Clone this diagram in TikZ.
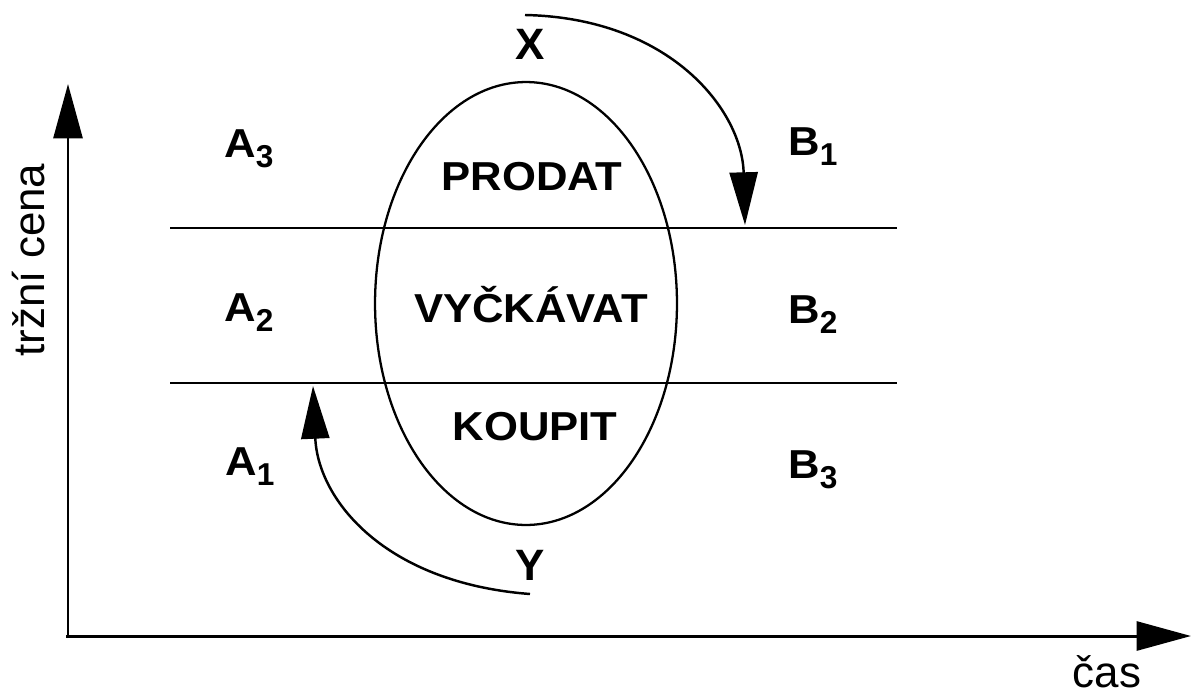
\documentclass[tikz,border=0pt]{standalone}
\usepackage{fontspec}
\usepackage{graphicx}
\setmainfont{Liberation Sans}
\usetikzlibrary{arrows.meta}
\tikzset{
  axisline/.style={line width=1.7pt,-{Triangle[length=31pt,width=16.5pt]}},
  bandline/.style={line width=1.6pt},
  curvearrow/.style={line width=1.4pt,-{Triangle[length=30pt,width=16pt]}},
  oval/.style={line width=1.3pt},
  zone/.style={font=\fontsize{23}{25}\selectfont\bfseries,inner sep=0pt,anchor=base},
  sidelab/.style={font=\fontsize{23}{25}\selectfont\bfseries,inner sep=0pt,anchor=base west},
  bigletter/.style={font=\fontsize{25}{27}\selectfont\bfseries,inner sep=0pt,anchor=base},
  axlab/.style={font=\fontsize{25}{28}\selectfont,inner sep=0pt},
}
\newcommand{\wide}[1]{\scalebox{1.08}[1]{#1}}
\newcommand{\sublab}[2]{\wide{#1}\raisebox{-5.7pt}{\fontsize{18}{18}\selectfont #2}}
\begin{document}
\begin{tikzpicture}[x=0.02cm,y=-0.02cm]
\useasboundingbox (0,0) rectangle (1192,696);
% axes
\coordinate (o) at (68,636);
\coordinate (ytip) at (68,84);
\coordinate (xtip) at (1191,636);
\draw[axisline] (68,638) -- (ytip);
\draw[axisline] (66,636) -- (xtip);
\node[axlab,rotate=90] (ylab) at (29,260) {tržní cena};
\node[axlab,anchor=base] (xlab) at (1107,687) {čas};
% band lines
\coordinate (l1a) at (170,228);
\coordinate (l1b) at (897,228);
\coordinate (l2a) at (170,383);
\coordinate (l2b) at (897,383);
\draw[bandline] (l1a) -- (l1b);
\draw[bandline] (l2a) -- (l2b);
% ellipse
\coordinate (oc) at (526,303.5);
\draw[oval] (oc) ellipse [x radius=3.02cm, y radius=4.43cm];
% zone labels
\node[zone] (prodat) at (532,190) {\wide{PRODAT}};
\node[zone] (vyck) at (531,322) {\wide{VYČKÁVAT}};
\node[zone] (koupit) at (535,440) {\wide{KOUPIT}};
% side labels
\node[sidelab] (a3) at (224,157) {\sublab{A}{3}};
\node[sidelab] (a2) at (224,321) {\sublab{A}{2}};
\node[sidelab] (a1) at (225,475) {\sublab{A}{1}};
\node[sidelab] (b1) at (788,155) {\sublab{B}{1}};
\node[sidelab] (b2) at (788,323) {\sublab{B}{2}};
\node[sidelab] (b3) at (788,478) {\sublab{B}{3}};
% X and Y
\node[bigletter] (xl) at (530,60) {X};
\node[bigletter] (yl) at (530,580) {Y};
\coordinate (xs) at (525,15);
\coordinate (xe) at (745,225);
\coordinate (ys) at (530,594);
\coordinate (ye) at (313,386);
\draw[curvearrow] (xs) .. controls (670,18) and (742,110) .. (xe);
\draw[curvearrow] (ys) .. controls (385,583) and (318,500) .. (ye);
\end{tikzpicture}
\end{document}
